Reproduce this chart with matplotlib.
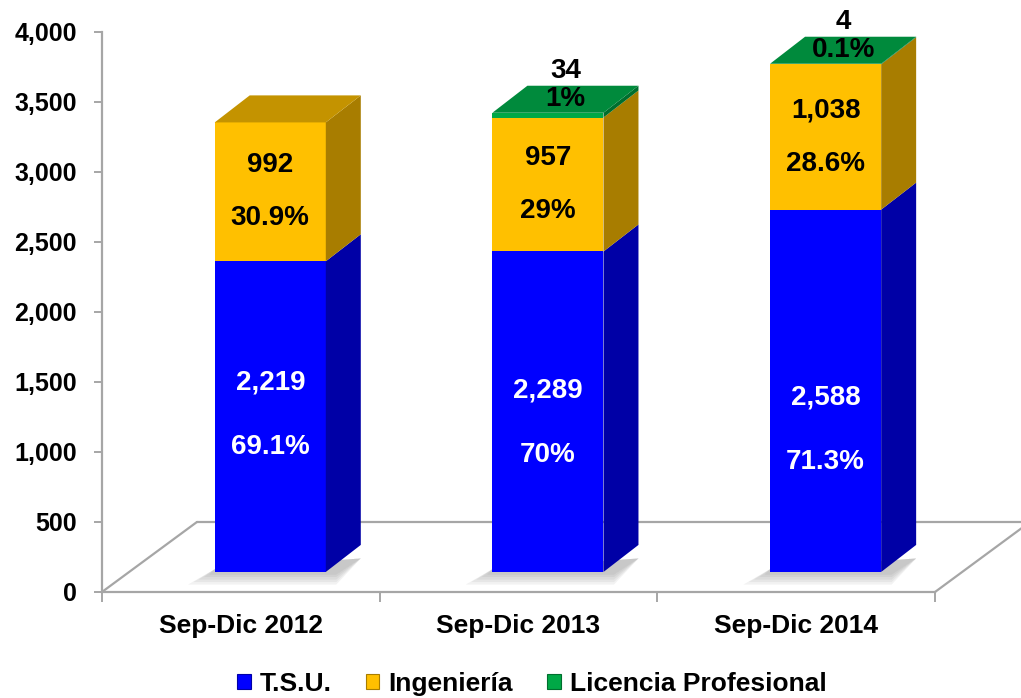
import matplotlib.pyplot as plt
from matplotlib.patches import Polygon, Patch
import numpy as np

plt.rcParams['font.family'] = ['Liberation Sans', 'DejaVu Sans']
plt.rcParams['font.weight'] = 'bold'

# data
periods = ['Sep-Dic 2012', 'Sep-Dic 2013', 'Sep-Dic 2014']
series_names = ['T.S.U.', 'Ingeniería', 'Licencia Profesional']
tsu = [2219, 2289, 2588]
ingenieria = [992, 957, 1038]
licencia = [0, 34, 4]
tsu_pct = ['69.1%', '70%', '71.3%']
ing_pct = ['30.9%', '29%', '28.6%']
lic_pct = ['', '1%', '0.1%']
y_ticks = [0, 500, 1000, 1500, 2000, 2500, 3000, 3500, 4000]

# styles: (front, side, top)
colors = {
    'T.S.U.': ('#0000FF', '#0000A6', '#0000C8'),
    'Ingeniería': ('#FFC000', '#A87D00', '#C49300'),
    'Licencia Profesional': ('#00A846', '#006E2E', '#008A3C'),
}
# fake 3d geometry (category units / value units)
BAR_W = 0.40
BAR_SHIFT = 0.106
BASE = 143
DX, DY = 0.126, 193
FLOOR_DX, FLOOR_DY = 0.342, 500
GRAY = '#a6a6a6'
# label centre height for the blue segment (relative to bar base)
tsu_label_y = [1120, 1065, 1015]


def draw_box(ax, x0, y0, y1, cols, top=False, z=3):
    front, side, topc = cols
    b0, b1 = BASE + y0, BASE + y1
    ax.add_patch(Polygon([(x0, b0), (x0 + BAR_W, b0), (x0 + BAR_W, b1), (x0, b1)],
                         closed=True, fc=front, ec='none', zorder=z))
    ax.add_patch(Polygon([(x0 + BAR_W, b0), (x0 + BAR_W + DX, b0 + DY),
                          (x0 + BAR_W + DX, b1 + DY), (x0 + BAR_W, b1)],
                         closed=True, fc=side, ec='none', zorder=z))
    if top:
        ax.add_patch(Polygon([(x0, b1), (x0 + DX, b1 + DY), (x0 + BAR_W + DX, b1 + DY),
                              (x0 + BAR_W, b1)], closed=True, fc=topc, ec='none', zorder=z))


fig = plt.figure(figsize=(10.21, 6.98), dpi=100)
ax = fig.add_axes([0.0999, 0.1519, 0.8159, 0.8023])
ax.set_xlim(-0.5, 2.5)
ax.set_ylim(0, 4000)

# floor
floor_kw = dict(color=GRAY, lw=1.6, clip_on=False, zorder=1, solid_capstyle='round')
ax.plot([-0.5, -0.5 + FLOOR_DX], [0, FLOOR_DY], **floor_kw)
ax.plot([-0.5 + FLOOR_DX, 3.2], [FLOOR_DY, FLOOR_DY], **floor_kw)
ax.plot([2.5, 2.5 + FLOOR_DX], [0, FLOOR_DY], **floor_kw)

x = np.arange(len(periods))
for i in range(len(periods)):
    x0 = x[i] + BAR_SHIFT - BAR_W / 2
    # soft shadow at the base
    for k in range(5):
        e = 0.012 * (k + 1)
        ax.add_patch(Polygon([(x0 - e * 1.6, BASE - 18 * (k + 1)), (x0 + BAR_W + DX * 0.3, BASE - 18 * (k + 1)),
                              (x0 + BAR_W + DX, BASE + DY * 0.5), (x0, BASE + 20)],
                             closed=True, fc='#707070', ec='none', alpha=0.09, zorder=2))
    segs = [tsu[i], ingenieria[i], licencia[i]]
    bottom = 0
    visible = [j for j, v in enumerate(segs) if v > 0]
    for j, v in enumerate(segs):
        if v <= 0:
            continue
        draw_box(ax, x0, bottom, bottom + v, colors[series_names[j]], top=(j == visible[-1]))
        bottom += v
    total = bottom
    cx = x0 + BAR_W / 2

    # labels
    lbl = dict(ha='center', va='center', fontsize=20, fontweight='bold', zorder=6)
    ty = BASE + tsu_label_y[i]
    ax.text(cx, ty + 230, f'{tsu[i]:,}', color='white', **lbl)
    ax.text(cx, ty - 230, tsu_pct[i], color='white', **lbl)
    iy = BASE + tsu[i] + ingenieria[i] / 2
    ax.text(cx, iy + 190, f'{ingenieria[i]:,}', color='black', **lbl)
    ax.text(cx, iy - 190, ing_pct[i], color='black', **lbl)
    if licencia[i] > 0:
        tx = cx + DX / 2
        ax.text(tx, BASE + total + DY / 2, lic_pct[i], color='black', **lbl)
        ax.text(tx, BASE + total + DY + 105, f'{licencia[i]:,}', color='black',
                clip_on=False, **lbl)

# axes styling
for s in ['top', 'right']:
    ax.spines[s].set_visible(False)
for s in ['left', 'bottom']:
    ax.spines[s].set_color(GRAY)
    ax.spines[s].set_linewidth(1.6)
ax.set_yticks(y_ticks)
ax.set_yticklabels([f'{v:,}' for v in y_ticks])
ax.tick_params(axis='y', colors=GRAY, length=6, width=1.4, pad=12, labelsize=18, labelcolor='black')
ax.set_xticks(x)
ax.set_xticklabels(periods)
ax.tick_params(axis='x', length=0, pad=16, labelsize=19, labelcolor='black')
ax.set_xticks([-0.5, 0.5, 1.5, 2.5], minor=True)
ax.tick_params(axis='x', which='minor', colors=GRAY, length=7, width=1.4)
for t in ax.get_yticklabels() + ax.get_xticklabels():
    t.set_fontweight('bold')

handles = [Patch(fc=colors[n][0], ec=colors[n][1], lw=0.8) for n in series_names]
leg = fig.legend(handles, series_names, loc='center', bbox_to_anchor=(0.521, 0.02),
                 ncol=3, frameon=False, handlelength=0.5, handleheight=0.5,
                 handletextpad=0.35, columnspacing=1.3,
                 prop={'size': 19, 'weight': 'bold'})

fig.savefig('out.png', dpi=100)
